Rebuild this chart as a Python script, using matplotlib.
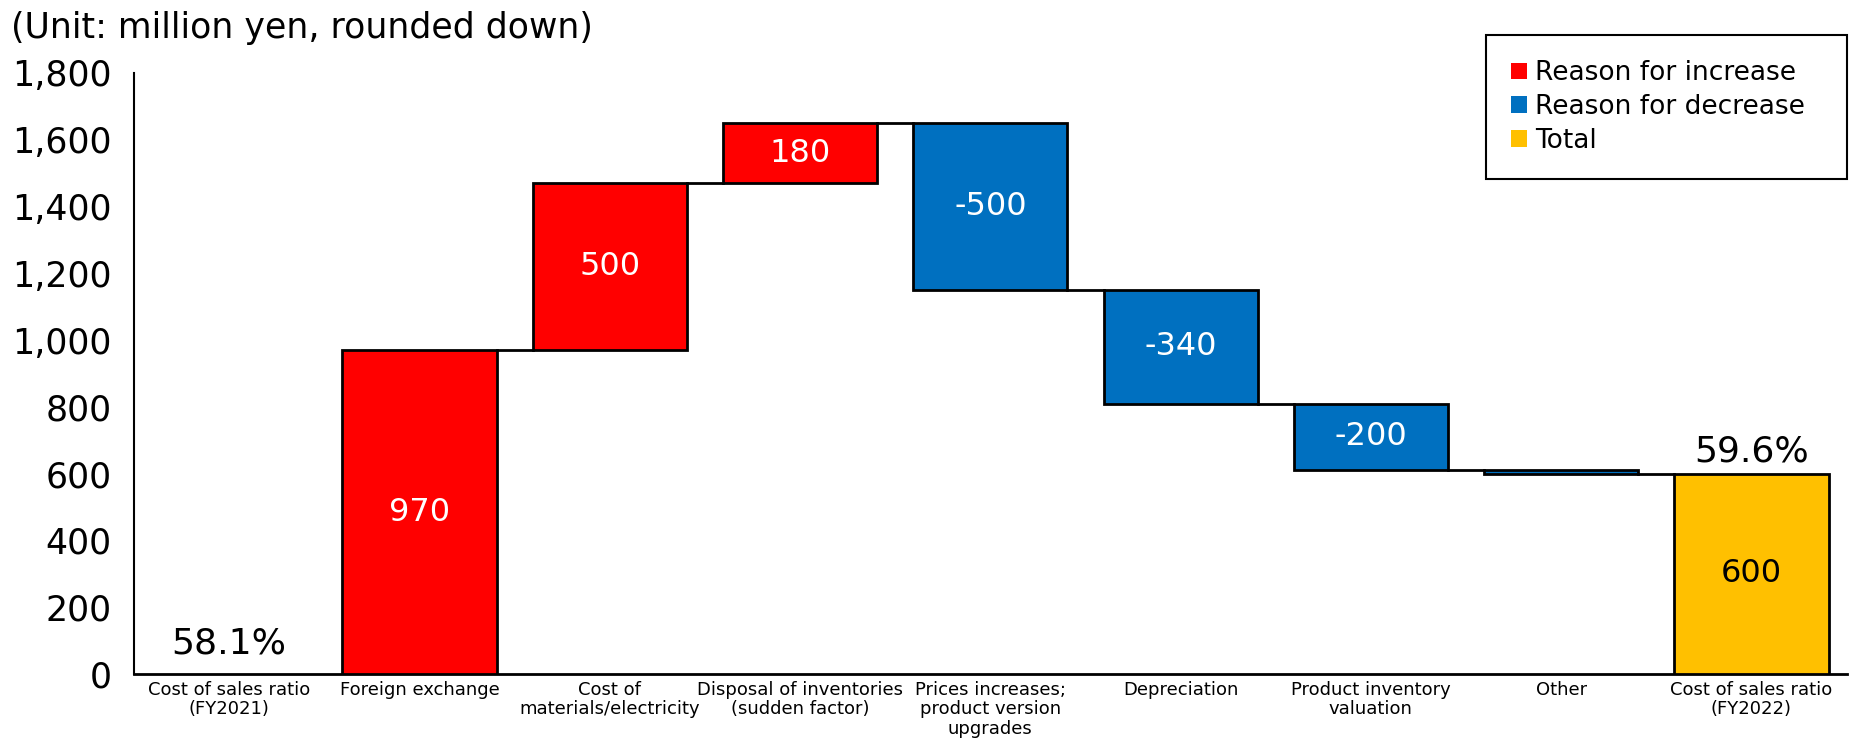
import numpy as np
import matplotlib.pyplot as plt
from matplotlib.patches import Patch

categories = ['Cost of sales ratio\n(FY2021)', 'Foreign exchange', 'Cost of\nmaterials/electricity',
              'Disposal of inventories\n(sudden factor)', 'Prices increases;\nproduct version\nupgrades',
              'Depreciation', 'Product inventory\nvaluation', 'Other', 'Cost of sales ratio\n(FY2022)']
changes = [0, 970, 500, 180, -500, -340, -200, -10]
total = 600
ratio_start = '58.1%'
ratio_end = '59.6%'

c_inc = '#FF0000'
c_dec = '#0070C0'
c_tot = '#FFC000'

fig = plt.figure(figsize=(18.54, 7.41), dpi=100)
ax = fig.add_axes([0.0723, 0.0904, 0.9237, 0.8111])

x = np.arange(len(categories))
w = 0.81
running = 0
bottoms, heights, colors, tops = [], [], [], []
for v in changes:
    if v >= 0:
        bottoms.append(running)
        heights.append(v)
        colors.append(c_inc)
    else:
        bottoms.append(running + v)
        heights.append(-v)
        colors.append(c_dec)
    running += v
    tops.append(running)
bottoms.append(0)
heights.append(total)
colors.append(c_tot)

# first category has no bar (start value shown as ratio only)
ax.bar(x[1:], heights[1:], bottom=bottoms[1:], width=w, color=colors[1:],
       edgecolor='black', linewidth=2, zorder=3)

# connector lines
for i in range(1, len(categories) - 1):
    ax.plot([x[i] + w / 2, x[i + 1] - w / 2], [tops[i], tops[i]], color='black', lw=2, zorder=2)

# value labels
for i in range(1, len(changes)):
    if abs(changes[i]) < 50:
        continue
    ax.text(x[i], bottoms[i] + heights[i] / 2, f'{changes[i]}', ha='center', va='center',
            color='white', fontsize=23, zorder=4)
ax.text(x[-1], total / 2, f'{total}', ha='center', va='center', color='black', fontsize=23, zorder=4)

ax.text(x[0], 40, ratio_start, ha='center', va='bottom', fontsize=26)
ax.text(x[-1], total + 15, ratio_end, ha='center', va='bottom', fontsize=26)

ax.set_xlim(-0.5, len(categories) - 0.5)
ax.set_ylim(0, 1800)
ax.set_yticks(np.arange(0, 1801, 200))
ax.set_yticklabels([f'{v:,}' for v in range(0, 1801, 200)], fontsize=25)
ax.set_xticks(x)
ax.set_xticklabels(categories, fontsize=13, linespacing=1.1)
ax.tick_params(axis='both', length=0)
ax.tick_params(axis='x', pad=5)
ax.tick_params(axis='y', pad=16)
for s in ['top', 'right']:
    ax.spines[s].set_visible(False)
ax.spines['left'].set_linewidth(1.5)
ax.spines['bottom'].set_linewidth(2)

fig.text(0.006, 0.962, '(Unit: million yen, rounded down)', fontsize=25, va='center', ha='left')

handles = [Patch(facecolor=c_inc, label='Reason for increase  '),
           Patch(facecolor=c_dec, label='Reason for decrease  '),
           Patch(facecolor=c_tot, label='Total')]
leg = ax.legend(handles=handles, loc='upper right', bbox_to_anchor=(1.0, 1.063), fontsize=19,
                handlelength=0.6, handleheight=0.6, handletextpad=0.3, labelspacing=0.3,
                borderpad=0.95, borderaxespad=0, fancybox=False, framealpha=1, edgecolor='black')
leg.get_frame().set_linewidth(1.5)

fig.savefig('out.png', dpi=100)
